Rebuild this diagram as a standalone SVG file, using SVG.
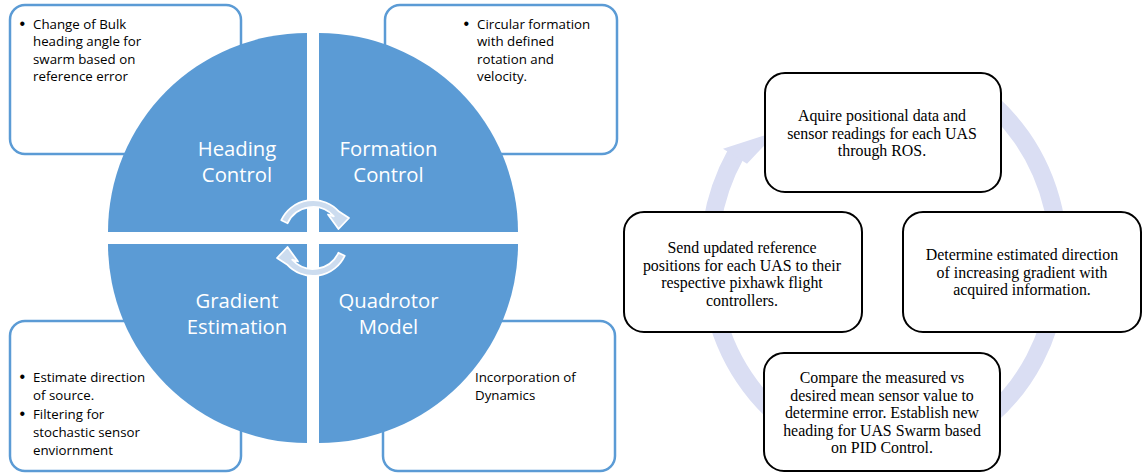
<svg xmlns="http://www.w3.org/2000/svg" width="1148" height="474" viewBox="0 0 1148 474">
<style>
.lbox{fill:#fff;stroke:#5B9BD5;stroke-width:2.5}
.quad{fill:#5B9BD5}
.qlab{font-family:"Open Sans",sans-serif;font-size:20.3px;fill:#fff;text-anchor:middle}
.btxt{font-family:"Open Sans",sans-serif;font-size:13.3px;fill:#000}
.bul{font-family:"Liberation Sans",sans-serif;font-size:16px;fill:#000}
.rbox{fill:#fff;stroke:#000;stroke-width:2}
.rtxt{font-family:"Liberation Serif",serif;font-size:15.9px;fill:#000;text-anchor:middle}
.carrow{fill:#CCDCEF;stroke:#fff;stroke-width:1.8;stroke-linejoin:round}
.ring{fill:none;stroke:#DADEF3;stroke-width:18}
</style>
<rect width="1148" height="474" fill="#fff"/>

<!-- Left diagram: description boxes -->
<g id="box-heading">
<rect class="lbox" x="10" y="5" width="231" height="149" rx="15"/>
<text class="bul" x="19.5" y="29">•</text>
<text class="btxt"><tspan x="33" y="28.5">Change of Bulk</tspan><tspan x="33" y="46">heading angle for</tspan><tspan x="33" y="63.5">swarm based on</tspan><tspan x="33" y="81">reference error</tspan></text>
</g>
<g id="box-formation">
<rect class="lbox" x="385" y="5" width="232" height="149" rx="15"/>
<text class="bul" x="463.5" y="29">•</text>
<text class="btxt"><tspan x="477" y="28.5">Circular formation</tspan><tspan x="477" y="46">with defined</tspan><tspan x="477" y="63.5">rotation and</tspan><tspan x="477" y="81">velocity.</tspan></text>
</g>
<g id="box-gradient">
<rect class="lbox" x="10" y="321" width="231" height="150" rx="15"/>
<text class="bul" x="19.5" y="382">•</text>
<text class="bul" x="19.5" y="419">•</text>
<text class="btxt"><tspan x="33" y="381.5">Estimate direction</tspan><tspan x="33" y="399.5">of source.</tspan><tspan x="33" y="418.5">Filtering for</tspan><tspan x="33" y="436.5">stochastic sensor</tspan><tspan x="33" y="454.5">enviornment</tspan></text>
</g>
<g id="box-quadrotor">
<rect class="lbox" x="383" y="321" width="232" height="150" rx="15"/>
<text class="btxt"><tspan x="475" y="381.5">Incorporation of</tspan><tspan x="475" y="399.5">Dynamics</tspan></text>
</g>

<!-- Quadrants -->
<g id="q-heading">
<path class="quad" d="M307,232 L108,232 A199,199 0 0 1 307,33 Z"/>
<text class="qlab"><tspan x="237" y="156">Heading</tspan><tspan x="237" y="182">Control</tspan></text>
</g>
<g id="q-formation">
<path class="quad" d="M319,232 L319,33 A199,199 0 0 1 518,232 Z"/>
<text class="qlab"><tspan x="388.5" y="156">Formation</tspan><tspan x="388.5" y="182">Control</tspan></text>
</g>
<g id="q-gradient">
<path class="quad" d="M307,244 L307,443 A199,199 0 0 1 108,244 Z"/>
<text class="qlab"><tspan x="237" y="307.5">Gradient</tspan><tspan x="237" y="333.5">Estimation</tspan></text>
</g>
<g id="q-quadrotor">
<path class="quad" d="M319,244 L518,244 A199,199 0 0 1 319,443 Z"/>
<text class="qlab"><tspan x="388.5" y="307.5">Quadrotor</tspan><tspan x="388.5" y="333.5">Model</tspan></text>
</g>

<g id="connectors">
<path class="carrow" d="M281.3,220.2 A35,35 0 0 1 339,211.6 L349,218 L338.5,229 L328,214.5 L333.8,216.3 A28,28 0 0 0 287.6,223.2 Z"/>
<path class="carrow" transform="rotate(180 313 238)" d="M281.3,220.2 A35,35 0 0 1 339,211.6 L349,218 L338.5,229 L328,214.5 L333.8,216.3 A28,28 0 0 0 287.6,223.2 Z"/>
<path class="ring" d="M971.5,88.4 A175,197 0 1 1 735.6,154.6"/>
<polygon points="723,148.7 747,163.7 778,131" fill="#DADEF3"/>
</g>

<g id="step-acquire">
<rect class="rbox" x="765" y="73" width="236" height="119" rx="20"/>
<text class="rtxt"><tspan x="882" y="121">Aquire positional data and</tspan><tspan x="882" y="138.5">sensor readings for each UAS</tspan><tspan x="882" y="156">through ROS.</tspan></text>
</g>
<g id="step-send">
<rect class="rbox" x="624" y="212" width="238" height="120" rx="20"/>
<text class="rtxt"><tspan x="742" y="253">Send updated reference</tspan><tspan x="742" y="270.5">positions for each UAS to their</tspan><tspan x="742" y="288">respective pixhawk flight</tspan><tspan x="742" y="305.5">controllers.</tspan></text>
</g>
<g id="step-determine">
<rect class="rbox" x="903" y="212" width="238" height="120" rx="20"/>
<text class="rtxt"><tspan x="1022" y="260">Determine estimated direction</tspan><tspan x="1022" y="277.5">of increasing gradient with</tspan><tspan x="1022" y="295">acquired information.</tspan></text>
</g>
<g id="step-compare">
<rect class="rbox" x="764" y="353" width="236" height="118" rx="20"/>
<text class="rtxt"><tspan x="882" y="383">Compare the measured vs</tspan><tspan x="882" y="400.5">desired mean sensor value to</tspan><tspan x="882" y="418">determine error. Establish new</tspan><tspan x="882" y="435.5">heading for UAS Swarm based</tspan><tspan x="882" y="453">on PID Control.</tspan></text>
</g>
</svg>
